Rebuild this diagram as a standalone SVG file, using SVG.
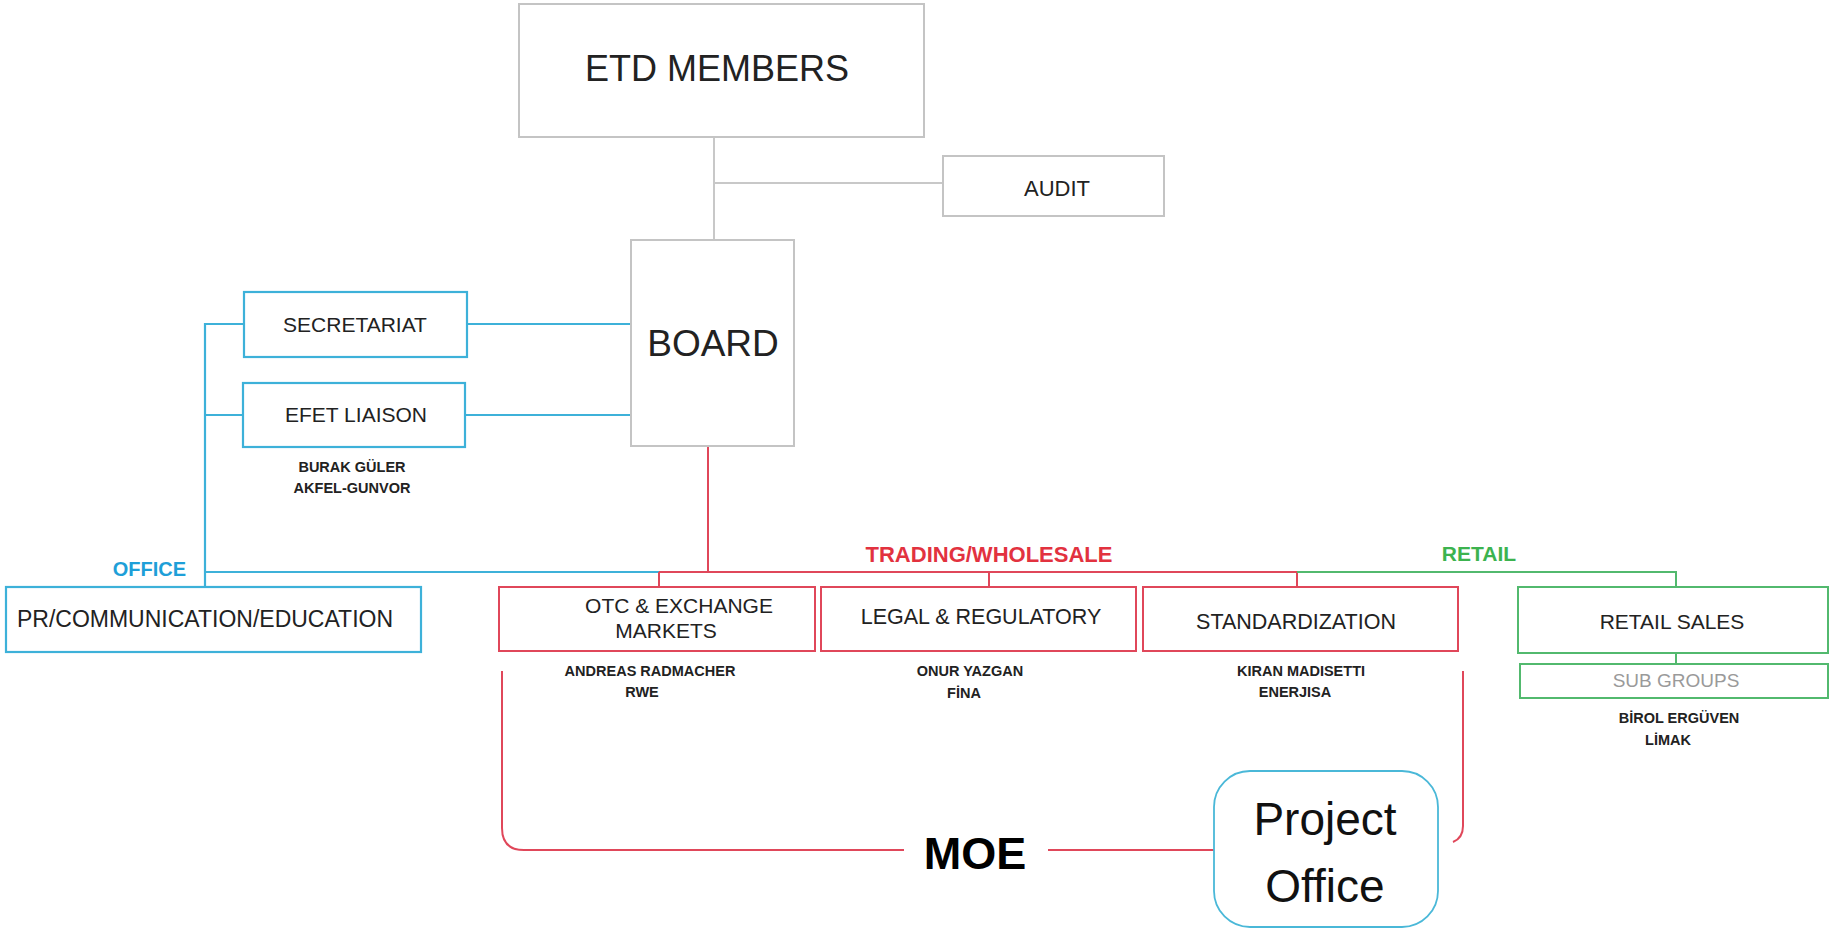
<svg xmlns="http://www.w3.org/2000/svg" width="1829" height="930" viewBox="0 0 1829 930">
<style>
text{font-family:"Liberation Sans",Arial,sans-serif;fill:#222;dominant-baseline:central;text-anchor:middle}
.gbox{fill:#fff;stroke:#c4c4c4;stroke-width:2}
.bbox{fill:#fff;stroke:#3db1d9;stroke-width:2.2}
.rbox{fill:#fff;stroke:#e0475a;stroke-width:2}
.grbox{fill:#fff;stroke:#52b96e;stroke-width:2}
.sub{font-weight:bold;font-size:14.5px}
.gl{stroke:#c8c8c8;stroke-width:2;fill:none}
.bl{stroke:#3db1d9;stroke-width:2.2;fill:none}
.rl{stroke:#e0475a;stroke-width:2;fill:none}
.grl{stroke:#52b96e;stroke-width:2;fill:none}
</style>
<rect width="1829" height="930" fill="#fff"/>
<g id="connectors">
<path class="gl" d="M714 137V240M714 183H943"/>
<path class="bl" d="M467 324H631M465 415H631M205 323V587M205 324H244M205 415H243M205 572H659"/>
<path class="rl" d="M708 446V572M659 572H1297M659 572V587M989 572V587M1297 572V587"/>
<path class="grl" d="M1297 572H1676V587M1676 653V664"/>
<path class="rl" d="M502 671V828Q502 850 524 850H904M1048 850H1214M1463 671V826Q1463 838 1453 842"/>
</g>
<g id="etd-members"><rect class="gbox" x="519" y="4" width="405" height="133"/><text x="717" y="68" font-size="36">ETD MEMBERS</text></g>
<g id="audit"><rect class="gbox" x="943" y="156" width="221" height="60"/><text x="1057" y="188" font-size="22">AUDIT</text></g>
<g id="board"><rect class="gbox" x="631" y="240" width="163" height="206"/><text x="713" y="343" font-size="37">BOARD</text></g>
<g id="secretariat"><rect class="bbox" x="244" y="292" width="223" height="65"/><text x="355" y="324" font-size="21">SECRETARIAT</text></g>
<g id="efet-liaison"><rect class="bbox" x="243" y="383" width="222" height="64"/><text x="356" y="414" font-size="21">EFET LIAISON</text>
<text class="sub" x="352" y="467">BURAK GÜLER</text><text class="sub" x="352" y="488">AKFEL-GUNVOR</text></g>
<g id="office-label"><text x="186" y="569" font-size="20" font-weight="bold" style="fill:#1e9fd8;text-anchor:end">OFFICE</text></g>
<g id="pr"><rect class="bbox" x="6" y="587" width="415" height="65"/><text x="205" y="619" font-size="23">PR/COMMUNICATION/EDUCATION</text></g>
<g id="trading-label"><text x="989" y="554" font-size="22" font-weight="bold" style="fill:#e2323f">TRADING/WHOLESALE</text></g>
<g id="retail-label"><text x="1479" y="553" font-size="21" font-weight="bold" style="fill:#3cb34f">RETAIL</text></g>
<g id="otc"><rect class="rbox" x="499" y="587" width="316" height="64"/><text x="679" y="605" font-size="21">OTC &amp; EXCHANGE</text><text x="666" y="630" font-size="21">MARKETS</text>
<text class="sub" x="650" y="671">ANDREAS RADMACHER</text><text class="sub" x="642" y="692">RWE</text></g>
<g id="legal"><rect class="rbox" x="821" y="587" width="315" height="64"/><text x="981" y="617" font-size="21.5">LEGAL &amp; REGULATORY</text>
<text class="sub" x="970" y="671">ONUR YAZGAN</text><text class="sub" x="964" y="693">FİNA</text></g>
<g id="standardization"><rect class="rbox" x="1143" y="587" width="315" height="64"/><text x="1296" y="622" font-size="21.5">STANDARDIZATION</text>
<text class="sub" x="1301" y="671">KIRAN MADISETTI</text><text class="sub" x="1295" y="692">ENERJISA</text></g>
<g id="retail-sales"><rect class="grbox" x="1518" y="587" width="310" height="66"/><text x="1672" y="621" font-size="21">RETAIL SALES</text></g>
<g id="sub-groups"><rect class="grbox" x="1520" y="664" width="308" height="34"/><text x="1676" y="680" font-size="19" style="fill:#9a9a9a">SUB GROUPS</text>
<text class="sub" x="1679" y="718">BİROL ERGÜVEN</text><text class="sub" x="1668" y="740">LİMAK</text></g>
<g id="moe"><text x="975" y="853" font-size="45" font-weight="bold" style="fill:#000">MOE</text></g>
<g id="project-office"><rect x="1214" y="771" width="224" height="156" rx="36" fill="#fff" stroke="#4ab8d8" stroke-width="1.8"/>
<text x="1325" y="819" font-size="46" style="fill:#111">Project</text><text x="1325" y="886" font-size="46" style="fill:#111">Office</text></g>
</svg>
